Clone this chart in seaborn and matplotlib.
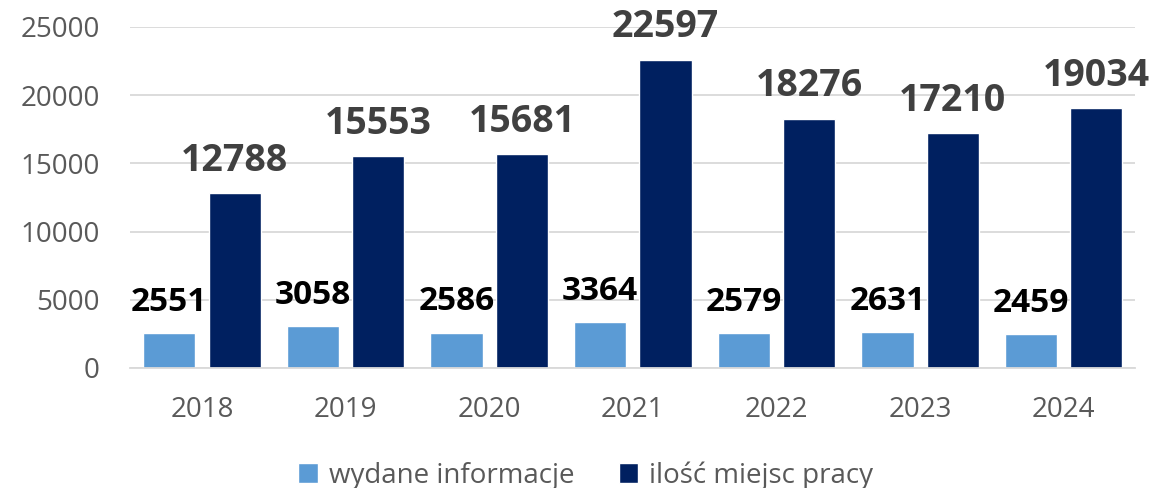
import pandas as pd
import seaborn as sns
import matplotlib.pyplot as plt

# Values
years = ['2018', '2019', '2020', '2021', '2022', '2023', '2024']
wydane = [2551, 3058, 2586, 3364, 2579, 2631, 2459]
miejsca = [12788, 15553, 15681, 22597, 18276, 17210, 19034]
series = ['wydane informacje', 'ilość miejsc pracy']
colors = ['#5B9BD5', '#002060']

df = pd.DataFrame({
    'Rok': years * 2,
    'Wartosc': wydane + miejsca,
    'Seria': [series[0]] * len(years) + [series[1]] * len(years),
})

sns.set_theme(style='white')
plt.rcParams['font.family'] = ['Open Sans', 'DejaVu Sans']

fig = plt.figure(figsize=(11.73, 4.88), dpi=100)
ax = fig.add_axes([0.111, 0.246, 0.857, 0.699])

sns.barplot(data=df, x='Rok', y='Wartosc', hue='Seria', palette=colors,
            width=0.91, gap=0.2, ax=ax, saturation=1, legend=True)

ax.set_ylim(0, 25000)
ax.set_yticks(range(0, 25001, 5000))
ax.yaxis.grid(True, color='#D9D9D9', linewidth=1.3)
ax.set_axisbelow(True)
for s in ['top', 'right', 'left']:
    ax.spines[s].set_visible(False)
ax.spines['bottom'].set_color('#D9D9D9')
ax.spines['bottom'].set_linewidth(1.3)
ax.set_xlabel('')
ax.set_ylabel('')
ax.tick_params(axis='y', length=0, pad=22, labelsize=20, labelcolor='#595959')
ax.tick_params(axis='x', length=0, pad=20, labelsize=20, labelcolor='#595959')

# value labels above the bars
label_colors = ['black', '#404040']
label_sizes = [24, 27]
for cont, col, fs in zip(ax.containers, label_colors, label_sizes):
    for bar in cont:
        h = bar.get_height()
        ax.annotate(f'{int(h)}', (bar.get_x() + bar.get_width() / 2, h),
                    xytext=(0, 16), textcoords='offset points',
                    ha='center', va='baseline', fontsize=fs,
                    fontweight='bold', color=col)

leg = ax.legend(loc='upper center', bbox_to_anchor=(0.453, -0.2), ncol=2,
                frameon=False, fontsize=20, handlelength=0.7, handleheight=0.7,
                handletextpad=0.4, columnspacing=1.6)
for t in leg.get_texts():
    t.set_color('#595959')

plt.savefig('out.png', dpi=100)
